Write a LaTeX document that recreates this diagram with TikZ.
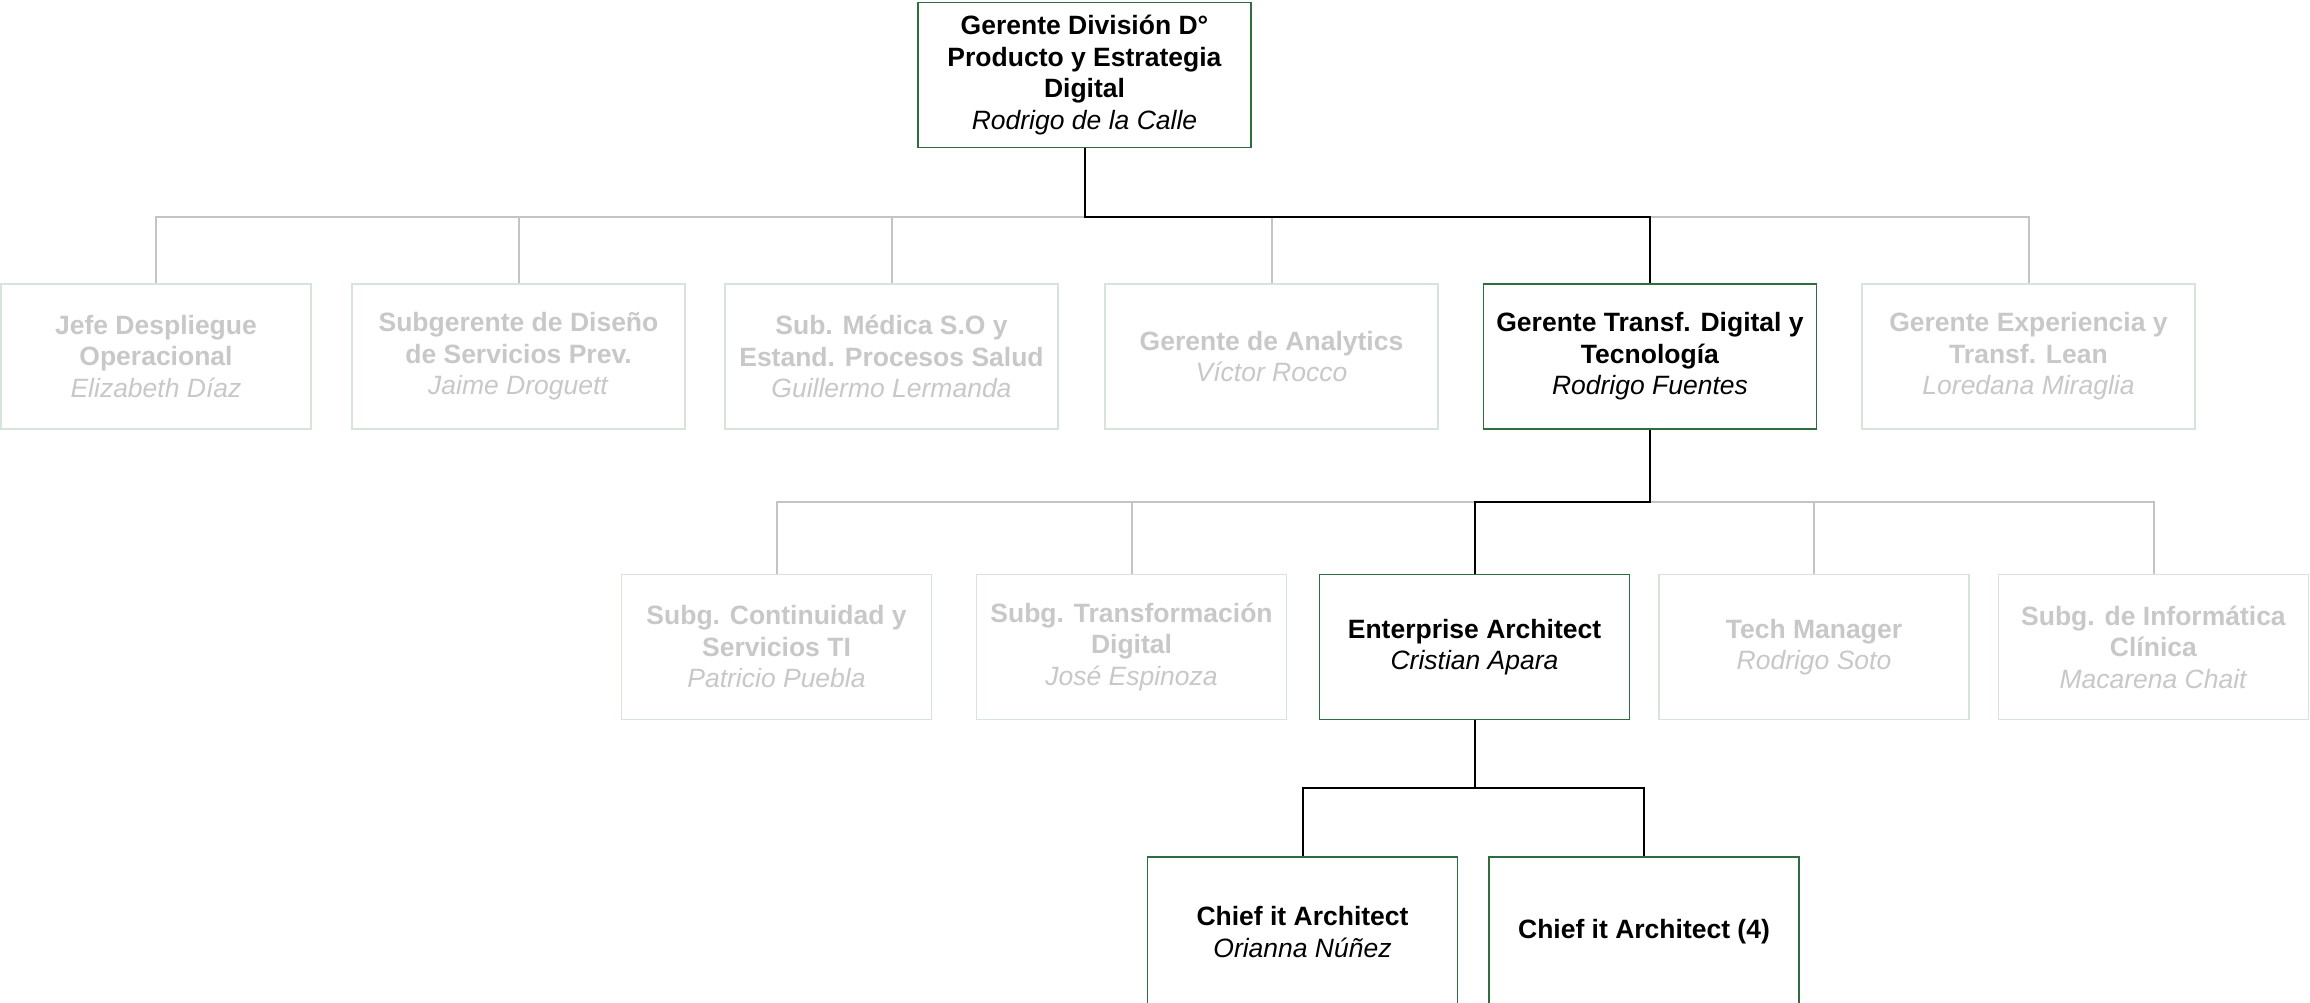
\documentclass[tikz,border=0pt]{standalone}
\usepackage{fontspec}
\setmainfont{Liberation Sans}
\definecolor{LiveClr}{RGB}{46,110,62}
\definecolor{OffClr}{RGB}{214,228,218}
\definecolor{OffTxt}{RGB}{200,200,200}
\definecolor{OffLine}{RGB}{196,196,196}

\begin{document}
\begin{tikzpicture}[x=1pt,y=-1pt,
  box/.style={draw,line width=1.4pt,align=center,inner sep=0pt,
    minimum height=145pt,font=\fontsize{26.5}{31.5}\selectfont},
  live/.style={box,draw=LiveClr,text=black},
  off/.style={box,draw=OffClr,text=OffTxt},
  liveline/.style={line width=2pt,black},
  offline/.style={line width=2pt,OffLine}]
\fill[white] (0,0) rectangle (2310,1002);
\useasboundingbox (0,0) rectangle (2310,1002);

\coordinate (b1) at (0,217);
\coordinate (b2) at (0,502);
\coordinate (b3) at (0,788);

\node[live,minimum width=333pt] (gdp) at (1084.5,75)
  {\textbf{Gerente División D°}\\\textbf{Producto y Estrategia}\\\textbf{Digital}\\\textit{Rodrigo de la Calle}};

\node[off,minimum width=310pt] (jdo) at (156,356.5)
  {\textbf{Jefe Despliegue}\\\textbf{Operacional}\\\textit{Elizabeth Díaz}};
\node[off,minimum width=333pt] (sds) at (518.5,356.5)
  {\textbf{Subgerente de Diseño}\\\textbf{de Servicios Prev.}\\\textit{Jaime Droguett}};
\node[off,minimum width=333pt] (sms) at (891.5,356.5)
  {\textbf{Sub. Médica S.O y}\\\textbf{Estand. Procesos Salud}\\\textit{Guillermo Lermanda}};
\node[off,minimum width=333pt] (gan) at (1271.5,356.5)
  {\textbf{Gerente de Analytics}\\\textit{Víctor Rocco}};
\node[live,minimum width=333pt] (gtd) at (1650,356.5)
  {\textbf{Gerente Transf. Digital y}\\\textbf{Tecnología}\\\textit{Rodrigo Fuentes}};
\node[off,minimum width=333pt] (gex) at (2028.5,356.5)
  {\textbf{Gerente Experiencia y}\\\textbf{Transf. Lean}\\\textit{Loredana Miraglia}};

\node[off,minimum width=310pt] (scs) at (776.5,647)
  {\textbf{Subg. Continuidad y}\\\textbf{Servicios TI}\\\textit{Patricio Puebla}};
\node[off,minimum width=310pt] (stf) at (1131.5,647)
  {\textbf{Subg. Transformación}\\\textbf{Digital}\\\textit{José Espinoza}};
\node[live,minimum width=310pt] (ea) at (1474.5,647)
  {\textbf{Enterprise Architect}\\\textit{Cristian Apara}};
\node[off,minimum width=310pt] (tm) at (1814,647)
  {\textbf{Tech Manager}\\\textit{Rodrigo Soto}};
\node[off,minimum width=310pt] (sic) at (2153.5,647)
  {\textbf{Subg. de Informática}\\\textbf{Clínica}\\\textit{Macarena Chait}};

\node[live,minimum width=310pt,minimum height=150pt] (cia) at (1302.5,932)
  {\textbf{Chief it Architect}\\\textit{Orianna Núñez}};
\node[live,minimum width=310pt,minimum height=150pt] (cib) at (1644,932)
  {\textbf{Chief it Architect (4)}};

\draw[offline] (jdo.north) -- (jdo.north |- b1) -| (gex.north);
\foreach \n in {sds,sms,gan}
  \draw[offline] (\n.north) -- (\n.north |- b1);
\draw[liveline] (gdp.south) -- (gdp.south |- b1) -| (gtd.north);

\draw[offline] (scs.north) -- (scs.north |- b2) -| (sic.north);
\foreach \n in {stf,tm}
  \draw[offline] (\n.north) -- (\n.north |- b2);
\draw[liveline] (gtd.south) -- (gtd.south |- b2) -| (ea.north);

\draw[liveline] (ea.south) -- (ea.south |- b3) -| (cia.north);
\draw[liveline] (ea.south |- b3) -| (cib.north);
\end{tikzpicture}
\end{document}
